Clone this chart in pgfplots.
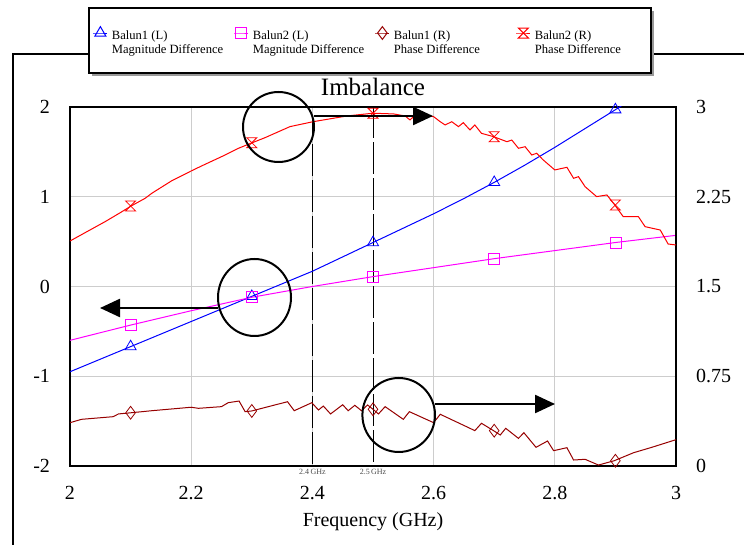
\documentclass[border=0pt]{standalone}
\usepackage{fontspec}
\setmainfont{Liberation Serif}
\usepackage{pgfplots}
\pgfplotsset{compat=1.18}
\usetikzlibrary{arrows.meta,shadows}

\definecolor{brn}{RGB}{150,0,0}
\definecolor{mag}{RGB}{255,0,255}
\definecolor{gridgray}{RGB}{205,205,205}

\pgfdeclareplotmark{hourglass}{%
  \pgfpathmoveto{\pgfqpoint{-\pgfplotmarksize}{\pgfplotmarksize}}%
  \pgfpathlineto{\pgfqpoint{\pgfplotmarksize}{\pgfplotmarksize}}%
  \pgfpathlineto{\pgfqpoint{-\pgfplotmarksize}{-\pgfplotmarksize}}%
  \pgfpathlineto{\pgfqpoint{\pgfplotmarksize}{-\pgfplotmarksize}}%
  \pgfpathclose
  \pgfusepathqstroke}

\newcommand{\lent}[2]{\makebox[59pt][l]{\begin{tabular}[c]{@{}l@{}}#1\\#2\end{tabular}}}

\begin{document}
\begin{tikzpicture}
% outer frame
\draw[line width=0.6pt] (-28.5pt,-39.5pt) -- (-28.5pt,206pt) -- (9.5pt,206pt);
\draw[line width=0.6pt] (290.5pt,206pt) -- (337pt,206pt);
% legend box
\draw[line width=0.6pt, fill=white, drop shadow={shadow xshift=1.5pt, shadow yshift=-1.5pt, fill=gray!80, opacity=1}] (9.5pt,196.5pt) rectangle (290.5pt,229pt);

\begin{axis}[
  at={(0pt,0pt)}, anchor=south west,
  scale only axis, width=303pt, height=179.5pt,
  xmin=2, xmax=3, ymin=-2, ymax=2,
  xtick={2,2.2,2.4,2.6,2.8,3},
  ytick={-2,-1,0,1,2},
  grid=major, grid style={gridgray, line width=0.5pt},
  major tick length=0pt,
  axis line style={-, line width=0.8pt},
  tick label style={font=\fontsize{10}{12}\selectfont},
  /pgf/number format/assume math mode=true,
  xticklabel style={yshift=-6.5pt},
  yticklabel style={xshift=-6.5pt},
  xlabel={Frequency (GHz)},
  xlabel style={font=\fontsize{10}{12}\selectfont, at={(axis description cs:0.5,0)}, anchor=center, yshift=-28pt},
  title={Imbalance},
  title style={font=\fontsize{12.5}{14}\selectfont, yshift=-4pt},
  legend columns=4,
  legend cell align=left,
  legend style={at={(axis description cs:0.0371,1.1866)}, anchor=west, draw=none, fill=none,
    inner xsep=0pt, inner ysep=0pt, font=\fontsize{6.3}{7}\selectfont,
    /tikz/every even column/.append style={column sep=0pt}},
  legend image code/.code={\draw[#1, mark repeat=2, mark phase=2] plot coordinates {(0pt,3.5pt) (3.5pt,3.5pt) (7pt,3.5pt)};},
]
\addlegendimage{blue, line width=0.5pt, mark=triangle, mark size=3.2pt}
\addlegendentry{\lent{Balun1 (L)}{Magnitude Difference}}
\addlegendimage{mag, line width=0.5pt, mark=square, mark size=2.75pt}
\addlegendentry{\lent{Balun2 (L)}{Magnitude Difference}}
\addlegendimage{brn, line width=0.5pt, mark=diamond, mark size=3.2pt}
\addlegendentry{\lent{Balun1 (R)}{Phase Difference}}
\addlegendimage{red, line width=0.5pt, mark=hourglass, mark size=2.5pt}
\addlegendentry{\lent{Balun2 (R)}{Phase Difference}}

% vertical markers
\addplot[black, line width=0.5pt, dash pattern=on 16pt off 2pt, forget plot] coordinates {(2.4,-1.98) (2.4,1.905)};
\addplot[black, line width=0.5pt, dash pattern=on 16pt off 2pt, forget plot] coordinates {(2.5,-1.95) (2.5,2)};

% Balun1 magnitude difference (left axis)
\addplot[blue, line width=0.5pt, forget plot] coordinates {
(2.00,-0.95) (2.05,-0.81) (2.10,-0.67) (2.15,-0.53) (2.20,-0.39) (2.25,-0.25)
(2.30,-0.11) (2.35,0.03) (2.40,0.17) (2.45,0.33) (2.50,0.49) (2.55,0.65)
(2.60,0.81) (2.65,0.98) (2.70,1.16) (2.75,1.35) (2.80,1.55) (2.85,1.76)
(2.90,1.97) (2.93,2.10)};
\addplot[blue, only marks, mark=triangle, mark size=3.2pt, forget plot] coordinates {
(2.1,-0.67) (2.3,-0.11) (2.5,0.49) (2.7,1.16) (2.9,1.97)};

% Balun2 magnitude difference (left axis)
\addplot[mag, line width=0.5pt, forget plot] coordinates {
(2.0,-0.60) (2.1,-0.43) (2.2,-0.27) (2.3,-0.12) (2.4,0.00) (2.5,0.11)
(2.6,0.21) (2.7,0.31) (2.8,0.40) (2.9,0.49) (3.0,0.57)};
\addplot[mag, only marks, mark=square, mark size=2.75pt, forget plot] coordinates {
(2.1,-0.43) (2.3,-0.12) (2.5,0.11) (2.7,0.31) (2.9,0.49)};
\end{axis}

\begin{axis}[
  at={(0pt,0pt)}, anchor=south west,
  scale only axis, width=303pt, height=179.5pt,
  xmin=2, xmax=3, ymin=0, ymax=3,
  axis x line=none, axis y line*=right,
  ytick={0,0.75,1.5,2.25,3},
  major tick length=0pt,
  axis line style={-, line width=0.8pt},
  tick label style={font=\fontsize{10}{12}\selectfont},
  /pgf/number format/assume math mode=true,
  yticklabel style={xshift=6.5pt},
]
% Balun2 phase difference (right axis)
\addplot[red, line width=0.5pt] coordinates {
(2.000,1.880) (2.025,1.950) (2.058,2.042) (2.083,2.117) (2.101,2.173) (2.124,2.237)
(2.135,2.279) (2.168,2.384) (2.201,2.468) (2.217,2.507) (2.256,2.599) (2.278,2.655)
(2.301,2.702) (2.322,2.744) (2.363,2.836) (2.401,2.877) (2.457,2.925) (2.500,2.948)
(2.534,2.942) (2.553,2.925) (2.561,2.892) (2.572,2.942) (2.600,2.919) (2.611,2.877)
(2.619,2.850) (2.630,2.877) (2.641,2.836) (2.649,2.869) (2.660,2.808) (2.668,2.850)
(2.679,2.780) (2.699,2.752) (2.721,2.710) (2.729,2.724) (2.740,2.655) (2.751,2.668)
(2.762,2.599) (2.770,2.613) (2.781,2.557) (2.800,2.474) (2.820,2.496) (2.831,2.404)
(2.839,2.418) (2.850,2.334) (2.869,2.251) (2.886,2.265) (2.899,2.181) (2.913,2.083)
(2.938,2.083) (2.949,2.000) (2.974,1.972) (2.987,1.855) (3.000,1.847)};
\addplot[red, only marks, mark=hourglass, mark size=2.5pt] coordinates {
(2.1,2.173) (2.3,2.702) (2.5,2.948) (2.7,2.752) (2.9,2.181)};

% Balun1 phase difference (right axis)
\addplot[brn, line width=0.5pt] coordinates {
(2.000,0.362) (2.019,0.390) (2.071,0.412) (2.080,0.435) (2.101,0.445) (2.135,0.462)
(2.200,0.491) (2.212,0.482) (2.250,0.496) (2.261,0.529) (2.279,0.543) (2.289,0.454)
(2.300,0.460) (2.338,0.510) (2.359,0.537) (2.370,0.462) (2.399,0.529) (2.410,0.468)
(2.418,0.501) (2.430,0.435) (2.450,0.512) (2.459,0.462) (2.470,0.507) (2.481,0.462)
(2.491,0.510) (2.500,0.474) (2.509,0.435) (2.520,0.496) (2.550,0.390) (2.560,0.454)
(2.600,0.362) (2.611,0.432) (2.660,0.315) (2.668,0.295) (2.679,0.357) (2.699,0.295)
(2.710,0.259) (2.719,0.315) (2.740,0.231) (2.749,0.278) (2.769,0.156) (2.788,0.209)
(2.798,0.128) (2.820,0.153) (2.831,0.050) (2.850,0.056) (2.872,0.008) (2.898,0.044)
(2.930,0.111) (2.960,0.156) (3.000,0.220)};
\addplot[brn, only marks, mark=diamond, mark size=3.2pt] coordinates {
(2.1,0.445) (2.3,0.460) (2.5,0.474) (2.7,0.295) (2.9,0.044)};
\end{axis}

% annotations
\draw[line width=1pt] (104.25pt,169.5pt) ellipse [x radius=17.75pt, y radius=17.5pt];
\draw[line width=1pt] (92.25pt,84.25pt) ellipse [x radius=18.25pt, y radius=19.25pt];
\draw[line width=1pt] (164.35pt,25.5pt) ellipse [x radius=18.15pt, y radius=18.5pt];
\draw[line width=1.2pt, -{Triangle[length=10pt,width=9pt]}] (121.75pt,175pt) -- (181.5pt,175pt);
\draw[line width=1.2pt, -{Triangle[length=10pt,width=9pt]}] (74pt,79pt) -- (15pt,79pt);
\draw[line width=1.2pt, -{Triangle[length=10pt,width=9pt]}] (182.5pt,31pt) -- (242.5pt,31pt);
\node[font=\fontsize{4}{5}\selectfont, text=black!70, anchor=north, inner sep=0pt] at (121.2pt,-1.5pt) {2.4\,GHz};
\node[font=\fontsize{4}{5}\selectfont, text=black!70, anchor=north, inner sep=0pt] at (151.5pt,-1.5pt) {2.5\,GHz};

\pgfresetboundingbox
\path[use as bounding box] (-35pt,-39.5pt) rectangle (337pt,233pt);
\end{tikzpicture}
\end{document}
